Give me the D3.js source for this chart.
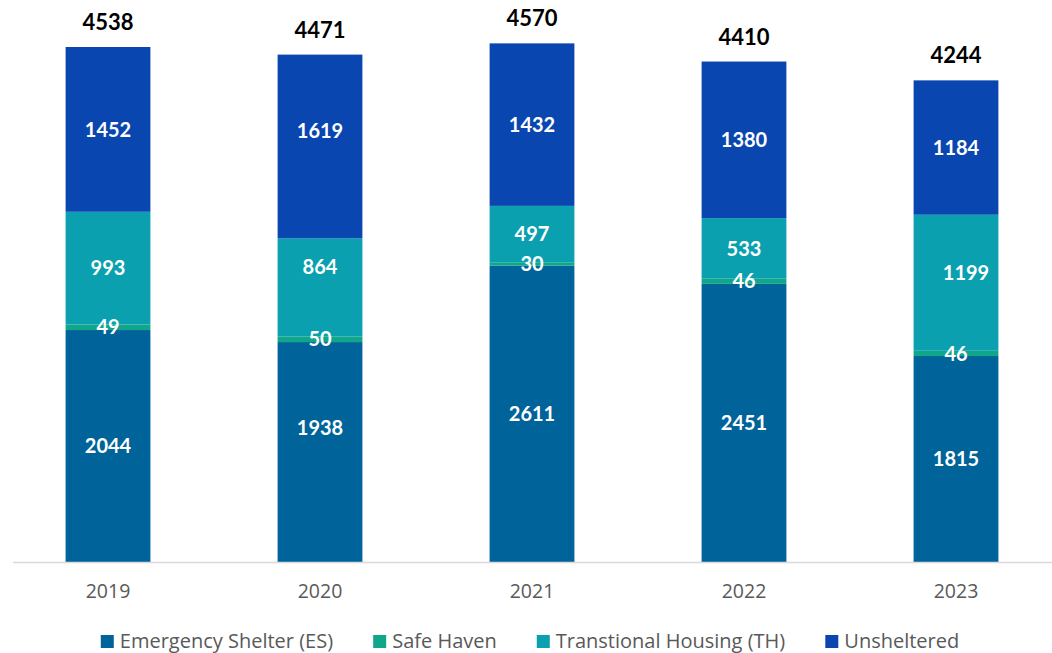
<!DOCTYPE html>
<html><head><meta charset="utf-8">
<script src="https://cdn.jsdelivr.net/npm/d3@7"></script>
<style>body{margin:0;background:#fff;} svg{display:block;font-family:Lato, "Open Sans", sans-serif;}</style>
</head><body>
<svg id="chart" width="1052" height="653"></svg>
<script>
const years = ["2019","2020","2021","2022","2023"];
const seriesNames = ["Emergency Shelter (ES)","Safe Haven","Transtional Housing (TH)","Unsheltered"];
const emergencyShelter = [2044,1938,2611,2451,1815];
const safeHaven = [49,50,30,46,46];
const transitionalHousing = [993,864,497,533,1199];
const unsheltered = [1452,1619,1432,1380,1184];
const totals = [4538,4471,4570,4410,4244];
const colors = ["#006399","#0fa68a","#0aa0b0","#0a46b0"];

const svg = d3.select("#chart");
const x = d3.scaleBand().domain(years).range([2,1062]).paddingInner(0.6).paddingOuter(0.3);
const y = d3.scaleLinear().domain([0,4538]).range([562,47]);

const rows = years.map((yr,i)=>({year:yr, es:emergencyShelter[i], sh:safeHaven[i], th:transitionalHousing[i], un:unsheltered[i]}));
const keys = ["es","sh","th","un"];
const stack = d3.stack().keys(keys)(rows);

const g = svg.append("g");
stack.forEach((layer,li)=>{
  g.selectAll(null).data(layer).enter().append("rect")
    .attr("x", d=>x(d.data.year))
    .attr("width", x.bandwidth())
    .attr("y", d=>y(d[1]))
    .attr("height", d=>y(d[0])-y(d[1]))
    .attr("fill", colors[li]);
});

// axis line
svg.append("line").attr("x1",13).attr("x2",1052).attr("y1",562.5).attr("y2",562.5)
  .attr("stroke","#d9d9d9").attr("stroke-width",1.5);

// x axis labels
const xAxis = d3.axisBottom(x).tickSize(0).tickPadding(0);
const ax = svg.append("g").attr("transform","translate(0,562)").call(xAxis);
ax.select(".domain").remove();
ax.selectAll("text").attr("dy",null).attr("y",36).attr("fill","#595959")
  .style("font-size","19.5px").style("font-family","'Open Sans', sans-serif");

// manual label nudges seen in the reference (series index, year index) -> [dx, dy]
function nudge(li,i){
  if (li===2 && i===4) return [10,-10];
  if (i===1) return [[0,-24],[0,0],[0,-21],[0,-16]][li];
  return [0,0];
}

// segment labels
stack.forEach((layer,li)=>{
  g.selectAll(null).data(layer).enter().append("text")
    .attr("x", (d,i)=>x(d.data.year)+x.bandwidth()/2 + nudge(li,i)[0])
    .attr("y", (d,i)=>(y(d[0])+y(d[1]))/2 + nudge(li,i)[1])
    .attr("dy","0.36em")
    .attr("text-anchor","middle")
    .attr("fill","#fff").attr("font-weight","bold").style("font-size","20px")
    .text(d=>d[1]-d[0]);
});

// totals
svg.selectAll(null).data(years).enter().append("text")
  .attr("x", d=>x(d)+x.bandwidth()/2)
  .attr("y", (d,i)=>y(totals[i])-17)
  .attr("text-anchor","middle").attr("fill","#000").attr("font-weight","bold")
  .style("font-size","22px").text((d,i)=>totals[i]);

// legend
const leg = svg.append("g").style("font-family","'Open Sans', sans-serif");
const items = leg.selectAll(null).data(seriesNames).enter().append("g");
items.append("rect").attr("width",13).attr("height",13).attr("y",-13).attr("fill",(d,i)=>colors[i]);
items.append("text").attr("x",19).attr("y",0).attr("fill","#595959").style("font-size","20px").text(d=>d);
const gap = 40;
let cx = 0;
items.each(function(){
  const w = this.getBBox().width;
  d3.select(this).attr("transform",`translate(${cx},648)`);
  cx += w + gap;
});
const totalW = cx - gap;
leg.attr("transform",`translate(${530 - totalW/2},0)`);
</script>
</body></html>
